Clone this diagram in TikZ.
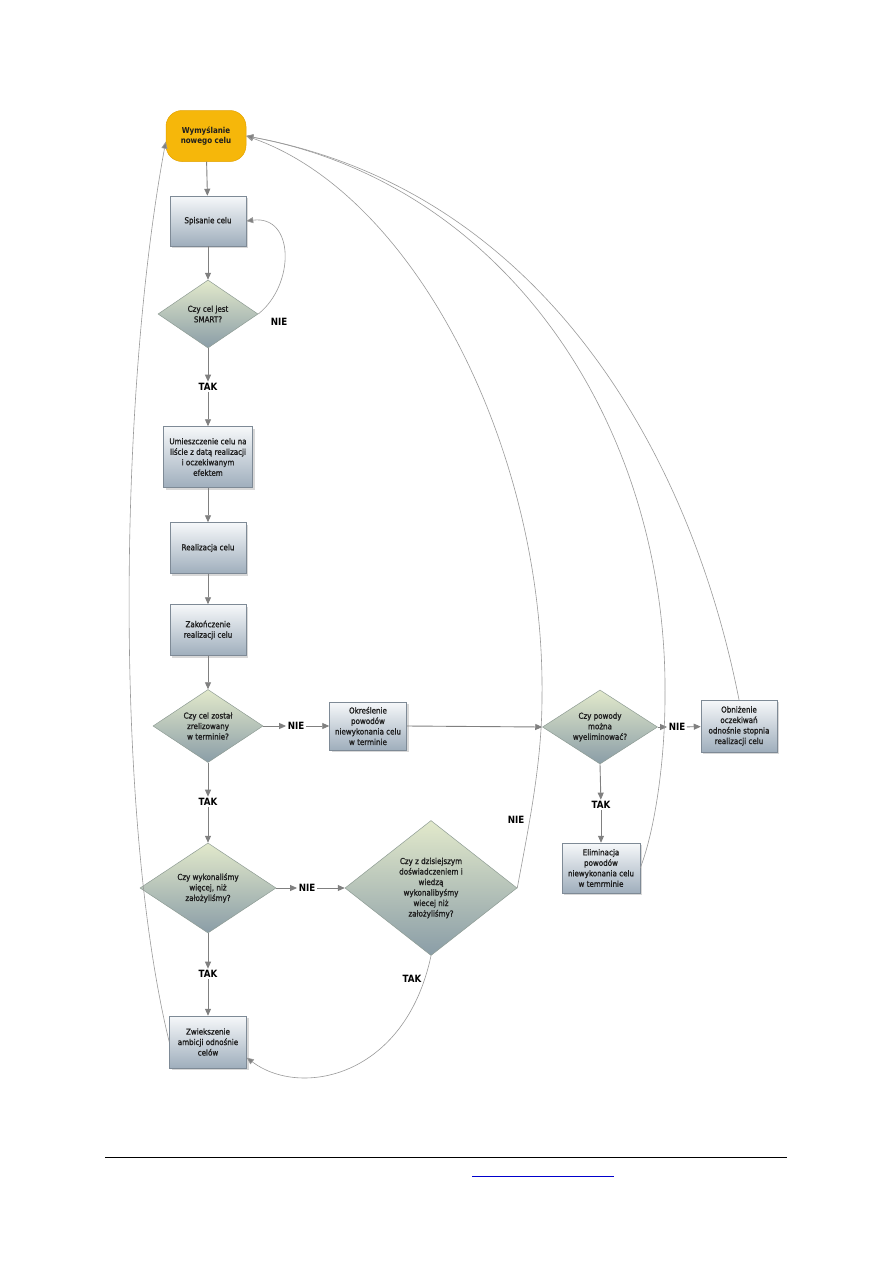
\documentclass[tikz,border=0pt]{standalone}
\usepackage{fontspec}
\setmainfont{DejaVu Sans}[FakeStretch=0.87]
\newfontfamily\boxfont{DejaVu Sans}[FakeStretch=0.87, FakeBold=1.3]
\usetikzlibrary{shapes.geometric,arrows.meta,shadows}
\definecolor{boxtop}{HTML}{F6F8FA}
\definecolor{boxbot}{HTML}{9FAEBC}
\definecolor{boxline}{HTML}{7E8A96}
\definecolor{diatop}{HTML}{E2E9CB}
\definecolor{diamid}{HTML}{B9C5A6}
\definecolor{diabot}{HTML}{8A9DA7}
\definecolor{dialine}{HTML}{8E9C94}
\definecolor{startfill}{HTML}{F6B70A}
\definecolor{startline}{HTML}{E3A200}
\definecolor{txt}{HTML}{1E1E1E}
\definecolor{arrgray}{HTML}{808080}
\definecolor{crvgray}{HTML}{9A9A9A}
\definecolor{linkblue}{HTML}{0000CC}
\begin{document}
\begin{tikzpicture}[x=1pt,y=-1pt,
  box/.style={rectangle, draw=boxline, line width=0.5pt, top color=boxtop, bottom color=boxbot,
    align=center, inner sep=1pt, font=\boxfont\fontsize{8.2}{10.5}\selectfont, text=txt,
    drop shadow={shadow xshift=2pt, shadow yshift=-2pt, opacity=0.3}},
  startbox/.style={rectangle, rounded corners=16pt, draw=startline, line width=0.5pt, fill=startfill,
    align=center, inner sep=1pt, font=\bfseries\fontsize{8.2}{10.5}\selectfont, text=txt,
    minimum width=80, minimum height=51},
  dia/.style={diamond, aspect=1.5, inner sep=0pt, draw=dialine, line width=0.5pt,
    top color=diatop, middle color=diamid, bottom color=diabot,
    align=center, font=\boxfont\fontsize{8.2}{10.5}\selectfont, text=txt},
  lab/.style={font=\bfseries\fontsize{10}{12}\selectfont, inner sep=1.5pt, text=black},
  arr/.style={draw=arrgray, line width=0.9pt, -{Triangle[length=7pt,width=6pt]}},
  crv/.style={draw=crvgray, line width=0.6pt, -{Triangle[length=7pt,width=6pt,fill=arrgray]}}
]
\fill[white] (0,0) rectangle (893,1263);
\useasboundingbox (0,0) rectangle (893,1263);

% nodes
\node[startbox] (start) at (206,136) {Wymyślanie\\nowego celu};
\node[box, minimum width=76, minimum height=50] (spis) at (208,221) {Spisanie celu};
\node[dia, minimum width=100, minimum height=68] (smart) at (208,314) {Czy cel jest\\SMART?};
\node[lab] (nie1) at (279,322) {NIE};
\node[lab] (tak1) at (208,387) {TAK};
\node[box, minimum width=89, minimum height=61] (umie) at (208,457) {Umieszczenie celu na\\liście z datą realizacji\\i oczekiwanym\\efektem};
\node[box, minimum width=76, minimum height=51] (real) at (208,548) {Realizacja celu};
\node[box, minimum width=76, minimum height=51] (zak) at (208,630) {Zakończenie\\realizacji celu};
\node[dia, minimum width=110, minimum height=73] (q1) at (208,726) {Czy cel został\\zrelizowany\\w terminie?};
\node[lab] (nie2) at (296,726) {NIE};
\node[box, minimum width=77, minimum height=48] (okr) at (368,726) {Określenie\\powodów\\niewykonania celu\\w terminie};
\node[dia, minimum width=115, minimum height=74] (q3) at (600,727) {Czy powody\\można\\wyeliminować?};
\node[lab] (nie3) at (677,727) {NIE};
\node[box, minimum width=76, minimum height=52] (obn) at (739,726) {Obniżenie\\oczekiwań\\odnośnie stopnia\\realizacji celu};
\node[lab] (tak3) at (601,805) {TAK};
\node[box, minimum width=78, minimum height=50] (elim) at (601,868) {Eliminacja\\powodów\\niewykonania celu\\w temrminie};
\node[lab] (tak2) at (208,802) {TAK};
\node[dia, minimum width=136, minimum height=90] (q2) at (208,888) {Czy wykonaliśmy\\więcej, niż\\założyliśmy?};
\node[lab] (nie4) at (307,888) {NIE};
\node[dia, minimum width=172, minimum height=135] (q4) at (431,888) {Czy z dzisiejszym\\doświadczeniem i\\wiedzą\\wykonalibyśmy\\wiecej niż\\założyliśmy?};
\node[lab] (tak4) at (208,974) {TAK};
\node[box, minimum width=77, minimum height=52] (zwi) at (208,1042) {Zwiekszenie\\ambicji odnośnie\\celów};
\node[lab] (tak5) at (412,979) {TAK};
\node[lab] (nie5) at (516,820) {NIE};

% straight connectors
\draw[arr] (start) -- (spis);
\draw[arr] (spis) -- (smart);
\draw[arr] (smart) -- (tak1);
\draw[arr] (tak1) -- (umie);
\draw[arr] (umie) -- (real);
\draw[arr] (real) -- (zak);
\draw[arr] (zak) -- (q1);
\draw[arr] (q1.east) -- (nie2);
\draw[arr] (nie2) -- (okr);
\draw[arr] (okr.east) -- (q3.west);
\draw[arr] (q3.east) -- (nie3);
\draw[arr] (nie3) -- (obn);
\draw[arr] (q3.south) -- (tak3);
\draw[arr] (tak3) -- (elim);
\draw[arr] (q1.south) -- (tak2);
\draw[arr] (tak2) -- (q2.north);
\draw[arr] (q2.east) -- (nie4);
\draw[arr] (nie4) -- (q4.west);
\draw[arr] (q2.south) -- (tak4);
\draw[arr] (tak4) -- (zwi);

% curved connectors
\draw[crv] (smart.east) .. controls (295,285) and (295,215) .. (spis.east);
\draw[crv] (q4.south) .. controls (405,1078) and (300,1098) .. (zwi.-22);
\draw[crv] (zwi.west) .. controls (115,820) and (118,400) .. (start.188);
\draw[crv] (q4.east) .. controls (530,820) and (542,760) .. (542,697)
   .. controls (545,450) and (415,195) .. (start.east);
\draw[crv] (elim.east) .. controls (655,830) and (665,760) .. (665,697)
   .. controls (668,430) and (510,185) .. (start.east);
\draw[crv] (obn.north) .. controls (690,450) and (540,190) .. (start.east);

% page footer rules
\draw[black, line width=1pt] (105,1157) -- (787,1157);
\draw[linkblue, line width=1pt] (472,1176) -- (614,1176);
\end{tikzpicture}
\end{document}
